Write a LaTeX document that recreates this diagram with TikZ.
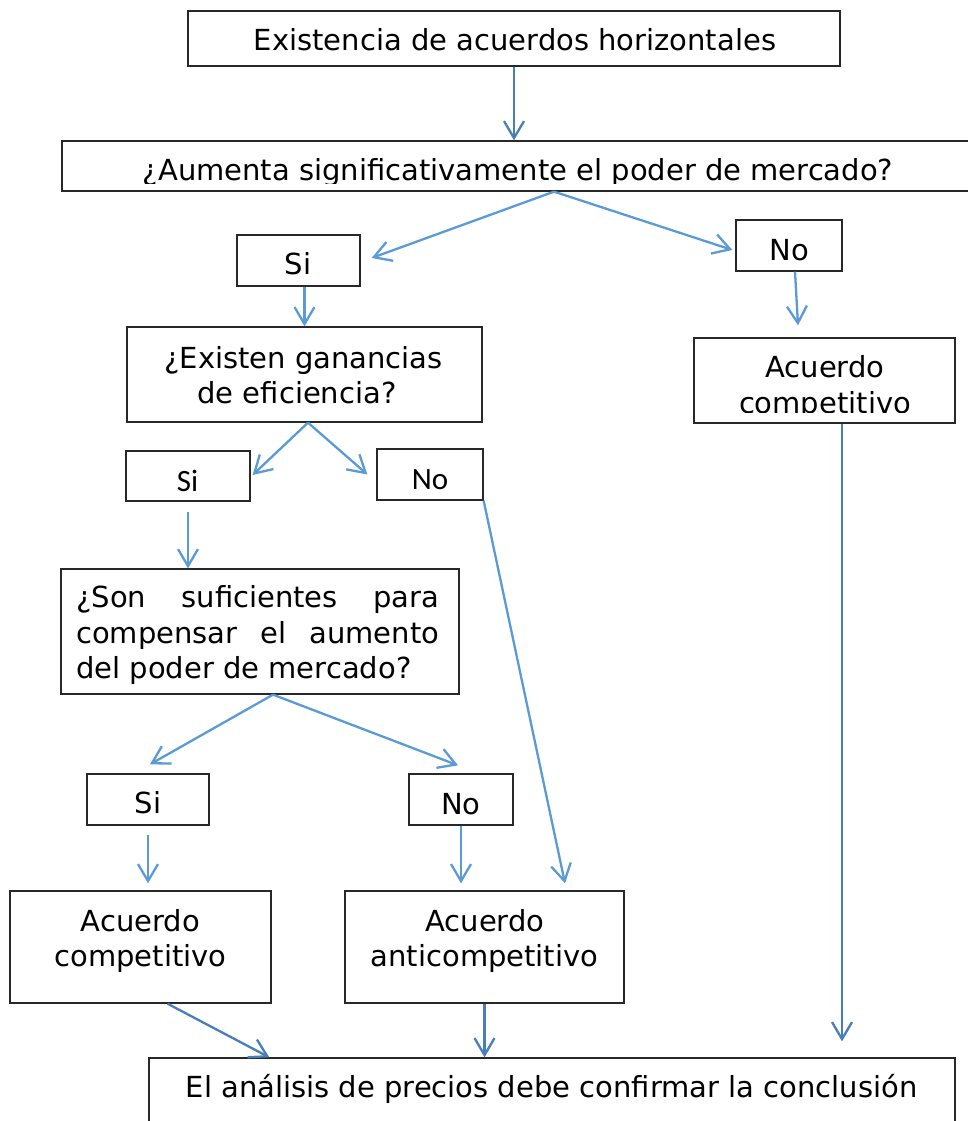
\documentclass[tikz,border=0pt]{standalone}
\usepackage{fontspec}
\setmainfont{DejaVu Sans}
\newfontfamily\calfont{Carlito}
\usetikzlibrary{arrows.meta,calc}
\definecolor{arrA}{RGB}{91,155,213}
\definecolor{arrB}{RGB}{74,126,187}
\definecolor{edgec}{RGB}{40,40,40}
\begin{document}
\begin{tikzpicture}[x=1pt,y=-1pt,
  box/.style={draw=edgec, line width=1.3pt, inner sep=0pt},
  txt/.style={inner sep=0pt, font=\fontsize{29}{35}\selectfont, anchor=base},
  ctxt/.style={inner sep=0pt, font=\calfont\fontsize{31}{37}\selectfont, anchor=base},
  arr/.style={draw=arrA, line width=2.3pt, -{Straight Barb[length=17pt,width=20pt,line width=2.3pt]}},
  arrb/.style={arr, draw=arrB}]
\useasboundingbox (0,0) rectangle (968,1121);
\clip (0,0) rectangle (968,1121);
\fill[white] (0,0) rectangle (968,1121);

% boxes
\node[box, minimum width=652pt, minimum height=55pt] (top) at (514,38.5) {};
\node[box, minimum width=984pt, minimum height=50pt] (q1) at (554,166) {};
\node[box, minimum width=123pt, minimum height=51pt] (si1) at (298.5,260.5) {};
\node[box, minimum width=106pt, minimum height=51pt] (no1) at (789,245.5) {};
\node[box, minimum width=355pt, minimum height=95pt] (ex) at (304.5,374.5) {};
\node[box, minimum width=261pt, minimum height=85pt] (acr) at (824.5,380.5) {};
\node[box, minimum width=124pt, minimum height=50pt] (si2) at (188,476) {};
\node[box, minimum width=106pt, minimum height=51pt] (no2) at (430,474.5) {};
\node[box, minimum width=398pt, minimum height=125pt] (son) at (260,631.5) {};
\node[box, minimum width=122pt, minimum height=51pt] (si3) at (148,799.5) {};
\node[box, minimum width=104pt, minimum height=51pt] (no3) at (461,799.5) {};
\node[box, minimum width=261pt, minimum height=112pt] (acl) at (140.5,947) {};
\node[box, minimum width=279pt, minimum height=112pt] (anti) at (484.5,947) {};
\node[box, minimum width=806pt, minimum height=102pt] (fin) at (552,1109) {};

% texts
\node[txt] (topt) at (515,50.5) {Existencia de acuerdos horizontales};
\begin{scope}
  \clip (62,141) rectangle (968,183.5);
  \node[txt] (q1t) at (518,180) {¿Aumenta significativamente el poder de mercado?};
\end{scope}
\node[txt] (si1t) at (298,274) {Si};
\node[txt] (no1t) at (789.5,260) {No};
\node[txt] (ext1) at (303.5,368) {¿Existen ganancias};
\node[txt] (ext2) at (297,403) {de eficiencia?};
\node[txt] (acrt1) at (825,377) {Acuerdo};
\begin{scope}
  \clip (694,390) rectangle (955,412.5);
  \node[txt] (acrt2) at (825,413) {competitivo};
\end{scope}
\node[ctxt] (si2t) at (187.5,491) {Si};
\node[ctxt] (no2t) at (430,489) {No};
\node[txt, anchor=base west] (sont1) at (76,607) {\makebox[363pt][s]{¿Son suficientes para}};
\node[txt, anchor=base west] (sont2) at (76,643) {\makebox[363pt][s]{compensar el aumento}};
\node[txt, anchor=base west] (sont3) at (76,678) {del poder de mercado?};
\node[txt] (si3t) at (148,813) {Si};
\node[txt] (no3t) at (461,814) {No};
\node[txt] (aclt1) at (140.5,931) {Acuerdo};
\node[txt] (aclt2) at (140.5,966) {competitivo};
\node[txt] (antit1) at (485,931) {Acuerdo};
\node[txt] (antit2) at (484.5,966) {anticompetitivo};
\node[txt] (fint) at (551.5,1097) {El análisis de precios debe confirmar la conclusión};

% connectors
\draw[arrb] (top.south) -- (top.south |- q1.north);
\draw[arr] (q1.south) -- ([xshift=11pt,yshift=2.5pt]si1.east);
\draw[arr] (q1.south) -- ([xshift=-3pt,yshift=-4.5pt]no1.west);
\draw[arr] (ex.north |- si1.south) -- (ex.north);
\draw[arr] ([xshift=6pt]no1.south) -- ([xshift=-26.5pt,yshift=12pt]acr.north);
\draw[arr] ([xshift=3.5pt]ex.south) -- ([xshift=2pt,yshift=1pt]si2.east);
\draw[arr] ([xshift=3.5pt]ex.south) -- ([xshift=-9pt]no2.west);
\draw[arr] ([yshift=-10pt]si2.south) -- (si2.south |- son.north);
\draw[arr] (no2.south east) -- ([xshift=80.5pt,yshift=7pt]anti.north);
\draw[arr] ([xshift=13pt]son.south) -- ([xshift=2pt,yshift=9pt]si3.north);
\draw[arr] ([xshift=13pt]son.south) -- ([xshift=-3pt,yshift=8pt]no3.north);
\draw[arr] ([yshift=-9pt]si3.south) -- ([yshift=7pt]si3.south |- acl.north);
\draw[arr] (no3.south) -- ([yshift=7pt]no3.south |- anti.north);
\draw[arrb] ([xshift=17.5pt]acr.south) -- ([xshift=17.5pt,yshift=16pt]acr.south |- fin.north);
\draw[arrb] ([xshift=27pt]acl.south) -- ([xshift=121pt]fin.north west);
\draw[arrb] (anti.south) -- (anti.south |- fin.north);
\end{tikzpicture}
\end{document}
